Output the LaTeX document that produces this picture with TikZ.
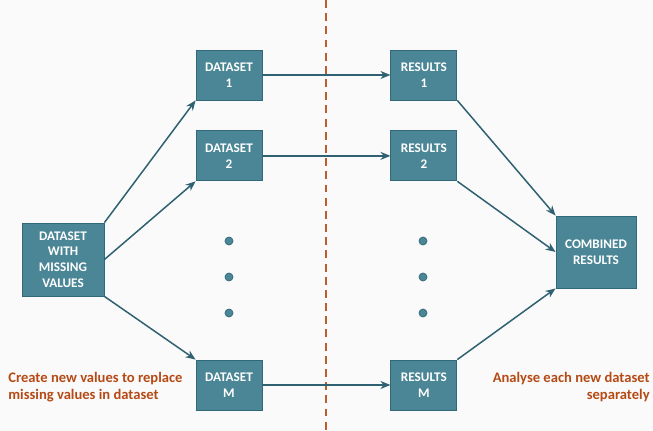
\documentclass[tikz,border=0pt]{standalone}
\usepackage{fontspec}
\setmainfont{Carlito}
\usetikzlibrary{positioning,arrows.meta}
\definecolor{boxfill}{HTML}{4B8696}
\definecolor{boxline}{HTML}{31687A}
\definecolor{arrowcol}{HTML}{2F6172}
\definecolor{rust}{HTML}{B64A14}

\begin{document}
\begin{tikzpicture}[x=0.2mm, y=-0.2mm, >={Stealth[length=2mm,width=1.6mm]}, every node/.style={font=\bfseries\fontsize{7.5}{9}\selectfont}]
  % Styles
  \tikzset{
    box/.style={draw=boxline, line width=0.5pt, fill=boxfill, text=white, align=center, minimum width=13.2mm, minimum height=10mm, inner sep=0pt},
    bigbox/.style={box, minimum width=16.4mm, minimum height=14.6mm},
    dot/.style={circle, fill=boxfill, draw=boxline, line width=0.4pt, minimum size=1.6mm, inner sep=0pt},
    arrow/.style={->, draw=arrowcol, fill=arrowcol, line width=0.85pt},
    note/.style={text=rust, font=\bfseries\fontsize{8.3}{9.7}\selectfont}
  }

  % Frame
  \fill[black!2] (0,0) rectangle (653,431);
  \useasboundingbox (0,0) rectangle (653,431);

  % Divider
  \draw[rust!90, line width=1pt, dash pattern=on 4.5pt off 3pt] (326,0) coordinate (divtop) -- (326,431) coordinate (divbot);

  % Nodes
  \node[bigbox] (missing) at (63,259.5) {DATASET\\WITH\\MISSING\\VALUES};
  \node[box] (ds1) at (229,75) {DATASET\\1};
  \node[box, below=6mm of ds1] (ds2) {DATASET\\2};
  \node[box] (dsm) at (229,385) {DATASET\\M};
  \node[box, right=25.6mm of ds1] (res1) {RESULTS\\1};
  \node[box, right=25.6mm of ds2] (res2) {RESULTS\\2};
  \node[box, right=25.6mm of dsm] (resm) {RESULTS\\M};
  \node[box, minimum width=16mm, minimum height=14.4mm] (comb) at (596,252) {COMBINED\\RESULTS};

  % Dots
  \foreach \y [count=\i] in {241,277,313} {
    \node[dot] (ldot\i) at (229,\y) {};
    \node[dot] (rdot\i) at (423,\y) {};
  }

  % Notes
  \node[note, anchor=north west, align=left, inner sep=0pt] (leftnote) at (8,372) {Create new values to replace\\missing values in dataset};
  \node[note, anchor=north east, align=right, inner sep=0pt] (rightnote) at (650,372) {Analyse each new dataset\\separately};

  % Arrows: missing -> datasets
  \draw[arrow] (missing.north east) -- (ds1.south west);
  \draw[arrow] (missing.east) -- (ds2.south west);
  \draw[arrow] (missing.south east) -- (dsm.north west);

  % Arrows: datasets -> results
  \draw[arrow] (ds1.east) -- (res1.west);
  \draw[arrow] (ds2.east) -- (res2.west);
  \draw[arrow] (dsm.east) -- (resm.west);

  % Arrows: results -> combined
  \draw[arrow] (res1.south east) -- (comb.north west);
  \draw[arrow] (res2.south east) -- (comb.west);
  \draw[arrow] (resm.north east) -- (comb.south west);
\end{tikzpicture}
\end{document}
